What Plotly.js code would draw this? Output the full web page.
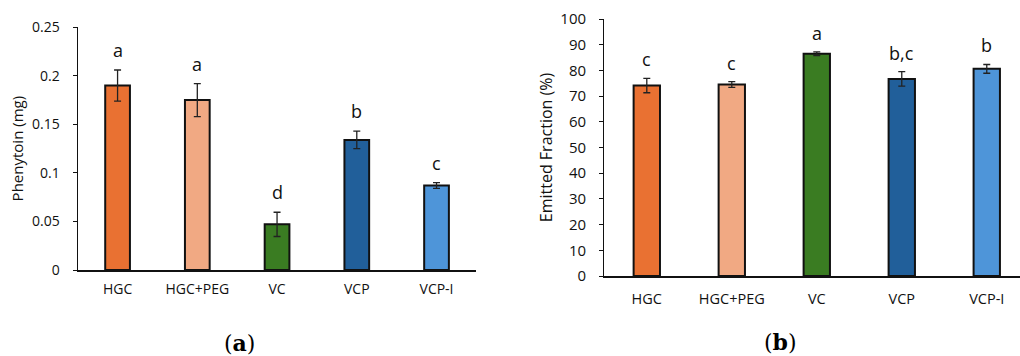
<!DOCTYPE html>
<html>
<head>
<meta charset="utf-8">
<script src="https://cdn.plot.ly/plotly-3.0.1.min.js"></script>
<style>html,body{margin:0;padding:0;background:#fff;}#chart{width:1020px;height:356px;}</style>
</head>
<body>
<div id="chart"></div>
<script>
const categories = ['HGC', 'HGC+PEG', 'VC', 'VCP', 'VCP-I'];
const barColors = ['#E97132', '#F1A983', '#3A7C22', '#215F9A', '#4E95D9'];

const phenytoinValues = [0.190, 0.175, 0.047, 0.134, 0.087];
const phenytoinErrors = [0.016, 0.017, 0.0125, 0.009, 0.003];
const phenytoinLetters = ['a', 'a', 'd', 'b', 'c'];
const phenytoinTicks = [0, 0.05, 0.1, 0.15, 0.2, 0.25];
const phenytoinTickText = ['0', '0.05', '0.1', '0.15', '0.2', '0.25'];

const emittedValues = [74.1, 74.5, 86.5, 76.7, 80.6];
const emittedErrors = [2.8, 1.1, 0.7, 2.8, 1.7];
const emittedLetters = ['c', 'c', 'a', 'b,c', 'b'];
const emittedTicks = [0, 10, 20, 30, 40, 50, 60, 70, 80, 90, 100];

const panelLabels = ['(<b>a</b>)', '(<b>b</b>)'];

const FONT = 'Open Sans, Lato, sans-serif';

function barTrace(vals, errs, xa, ya) {
  return {
    type: 'bar', x: categories, y: vals, xaxis: xa, yaxis: ya,
    width: 0.31,
    marker: {color: barColors, line: {color: '#111', width: 2}},
    error_y: {type: 'data', array: errs, visible: true, color: '#222', thickness: 1.3, width: 3.5},
    hoverinfo: 'skip', showlegend: false
  };
}

const data = [
  barTrace(phenytoinValues, phenytoinErrors, 'x', 'y'),
  barTrace(emittedValues, emittedErrors, 'x2', 'y2')
];

const annotations = [];
categories.forEach((c, i) => {
  annotations.push({x: c, y: phenytoinValues[i] + phenytoinErrors[i], xref: 'x', yref: 'y',
    text: phenytoinLetters[i], showarrow: false, yanchor: 'middle', yshift: 20,
    font: {family: FONT, size: 18, color: '#111'}});
  annotations.push({x: c, y: emittedValues[i] + emittedErrors[i], xref: 'x2', yref: 'y2',
    text: emittedLetters[i], showarrow: false, yanchor: 'middle', yshift: 19,
    font: {family: FONT, size: 18, color: '#111'}});
});
annotations.push({x: 239.5/1020, y: 1 - 343/356, xref: 'paper', yref: 'paper', text: panelLabels[0],
  showarrow: false, xanchor: 'center', yanchor: 'middle', font: {family: 'DejaVu Serif, serif', size: 22, color: '#000'}});
annotations.push({x: 780/1020, y: 1 - 342/356, xref: 'paper', yref: 'paper', text: panelLabels[1],
  showarrow: false, xanchor: 'center', yanchor: 'middle', font: {family: 'DejaVu Serif, serif', size: 22, color: '#000'}});

const layout = {
  width: 1020, height: 356,
  margin: {l: 0, r: 0, t: 0, b: 0},
  paper_bgcolor: '#fff', plot_bgcolor: 'rgba(0,0,0,0)',
  font: {family: FONT, color: '#111'},
  showlegend: false,
  xaxis: {
    domain: [77.7/1020, 476.4/1020], anchor: 'y', type: 'category',
    range: [-0.5, 4.5], showline: true, linecolor: '#111', linewidth: 1.5,
    ticks: '', showgrid: false, zeroline: false, fixedrange: true,
    tickfont: {family: FONT, size: 14, color: '#111'}, ticklabelstandoff: 6
  },
  yaxis: {
    domain: [1 - 270/356, 1 - 27.3/356], anchor: 'x',
    range: [0, 0.25], tickvals: phenytoinTicks, ticktext: phenytoinTickText,
    showline: true, linecolor: '#111', linewidth: 1.2, ticks: 'outside', ticklen: 4, tickcolor: '#111', tickwidth: 1,
    showgrid: false, zeroline: false, fixedrange: true,
    tickfont: {family: FONT, size: 14, color: '#111'}, ticklabelstandoff: 10,
    title: {text: 'Phenytoin (mg)', font: {family: FONT, size: 15, color: '#111'}, standoff: 4}
  },
  xaxis2: {
    domain: [604.3/1020, 1], anchor: 'y2', type: 'category',
    range: [-0.5, 4.391], showline: true, linecolor: '#111', linewidth: 1.8,
    ticks: '', showgrid: false, zeroline: false, fixedrange: true,
    tickfont: {family: FONT, size: 14.5, color: '#111'}, ticklabelstandoff: 9
  },
  yaxis2: {
    domain: [1 - 276/356, 1 - 19/356], anchor: 'x2',
    range: [0, 100], tickvals: emittedTicks,
    showline: true, linecolor: '#111', linewidth: 1.2, ticks: 'outside', ticklen: 4, tickcolor: '#111', tickwidth: 1,
    showgrid: false, zeroline: false, fixedrange: true,
    tickfont: {family: FONT, size: 15, color: '#111'}, ticklabelstandoff: 10,
    title: {text: 'Emitted Fraction (%)', font: {family: FONT, size: 16, color: '#111'}, standoff: 3}
  },
  annotations: annotations
};

Plotly.newPlot('chart', data, layout, {staticPlot: true, displayModeBar: false});
</script>
</body>
</html>
